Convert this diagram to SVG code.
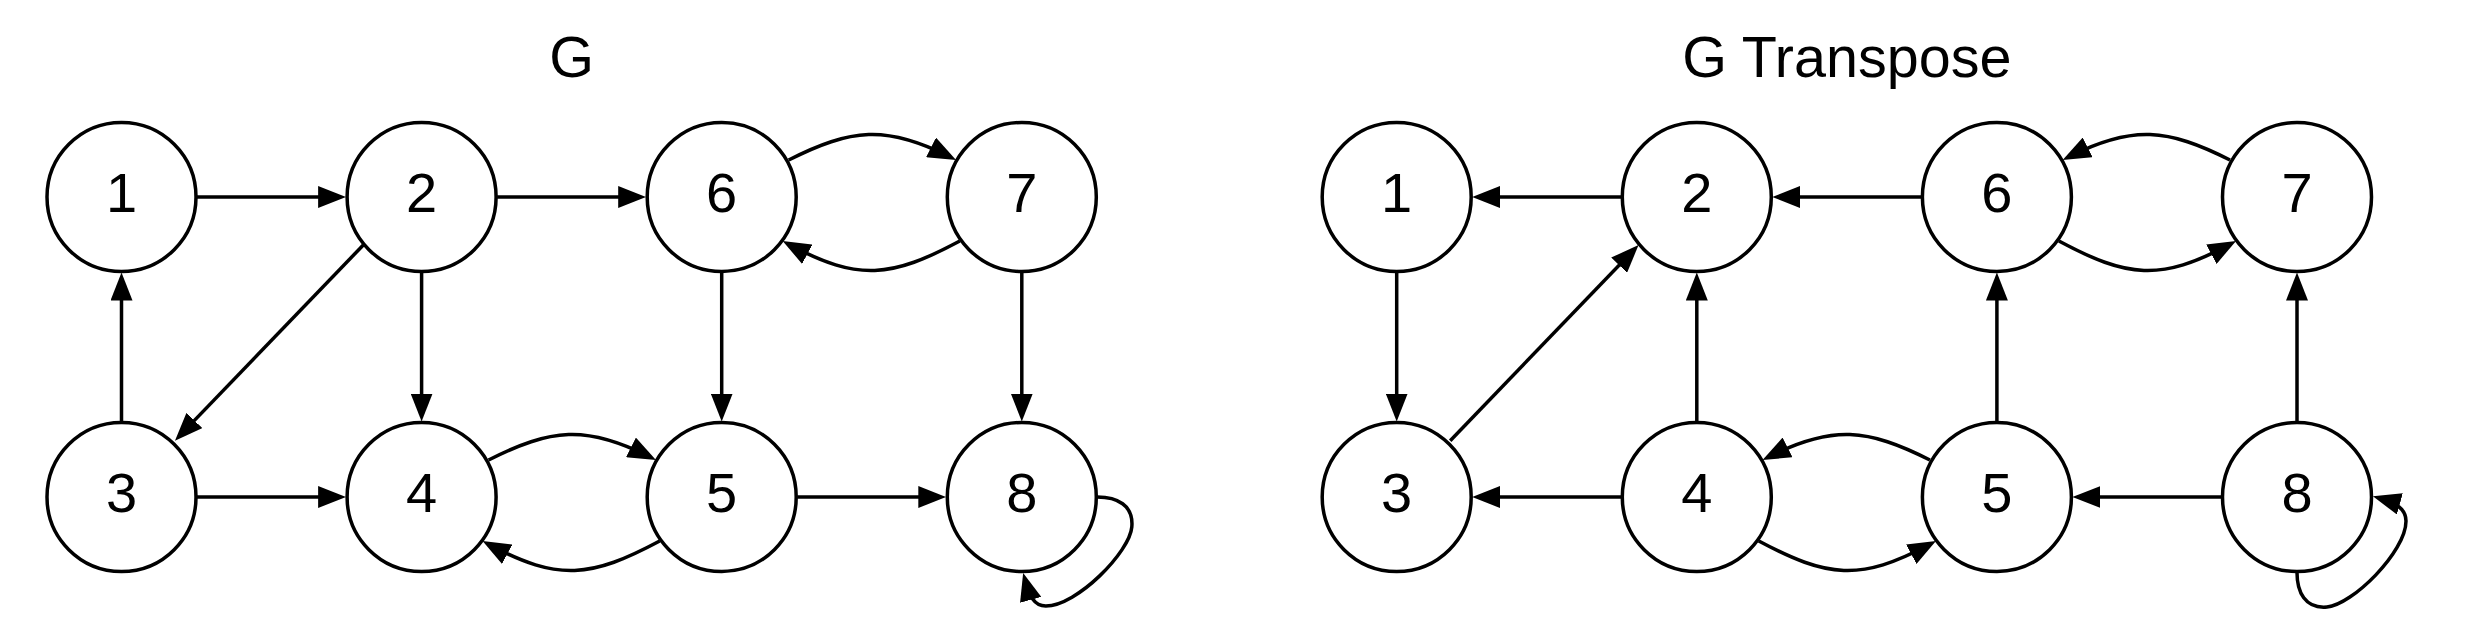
<svg xmlns="http://www.w3.org/2000/svg" width="2469" height="621" viewBox="0 0 2469 621">
<style>
.node circle{fill:#fff;stroke:#000;stroke-width:3.5}
.node text,.title{font-family:"Liberation Sans",Arial,sans-serif;font-size:56px;fill:#000;text-anchor:middle}
.title{font-size:57.5px}
.edges path{fill:none;stroke:#000;stroke-width:3.5;marker-end:url(#arr)}
</style>
<defs>
<marker id="arr" viewBox="0 0 28 22" markerWidth="28" markerHeight="22" refX="20" refY="11" orient="auto" markerUnits="userSpaceOnUse">
<path d="M0,0 L28,11 L0,22 z" fill="#000"/>
</marker>
</defs>
<rect width="2469" height="621" fill="#fff"/>
<text class="title" x="571.6" y="77.3">G</text>
<text class="title" x="1846.8" y="77.3">G Transpose</text>
<g class="edges" id="edges-g">
<path d="M197,197 L338.1,197"/>
<path d="M497.1,197 L638.2,197"/>
<path d="M197,497 L338.1,497"/>
<path d="M797.2,497 L938.3,497"/>
<path d="M121.5,421.5 L121.5,280.5"/>
<path d="M421.6,272.5 L421.6,413.5"/>
<path d="M721.7,272.5 L721.7,413.5"/>
<path d="M1021.8,272.5 L1021.8,413.5"/>
<path d="M363.3,245 L180.5,434.9"/>
<path d="M788.7,160 C851,128.5 886.4,124.9 948.9,156.4"/>
<path d="M959.8,241 C891.2,277.7 858.3,281.5 789.7,244.8"/>
<path d="M488.6,460 C550.9,428.5 586.3,424.9 648.8,456.4"/>
<path d="M659.7,541 C591.1,577.7 558.2,581.5 489.6,544.8"/>
<path d="M1097.3,497 C1116.8,497 1133.8,505 1131.8,527 C1129.8,552 1076.8,606 1045.8,606 C1033.8,606 1029.6,596 1025.3,580.6"/>
</g>
<g class="edges" id="edges-t">
<path d="M1621.3,197 L1480.2,197"/>
<path d="M1921.4,197 L1780.3,197"/>
<path d="M1621.3,497 L1480.2,497"/>
<path d="M2221.5,497 L2080.4,497"/>
<path d="M1396.7,272.5 L1396.7,413.5"/>
<path d="M1696.8,421.5 L1696.8,280.5"/>
<path d="M1996.9,421.5 L1996.9,280.5"/>
<path d="M2297,421.5 L2297,280.5"/>
<path d="M1450.2,440.7 L1633,250.8"/>
<path d="M2230,160 C2167.7,128.5 2132.3,124.9 2069.8,156.4"/>
<path d="M2058.9,241 C2127.5,277.7 2160.4,281.5 2229,244.8"/>
<path d="M1929.9,460 C1867.6,428.5 1832.2,424.9 1769.7,456.4"/>
<path d="M1758.8,541 C1827.4,577.7 1860.3,581.5 1928.9,544.8"/>
<path d="M2297,572.5 C2297,592 2305,609 2327,607 C2352,605 2406,552 2406,521 C2406,509 2396,502.8 2380.6,498.5"/>
</g>
<g id="g-node-1" class="node"><circle cx="121.5" cy="197" r="74.5"/><text x="121.5" y="211.7">1</text></g>
<g id="g-node-2" class="node"><circle cx="421.6" cy="197" r="74.5"/><text x="421.6" y="211.7">2</text></g>
<g id="g-node-6" class="node"><circle cx="721.7" cy="197" r="74.5"/><text x="721.7" y="211.7">6</text></g>
<g id="g-node-7" class="node"><circle cx="1021.8" cy="197" r="74.5"/><text x="1021.8" y="211.7">7</text></g>
<g id="g-node-3" class="node"><circle cx="121.5" cy="497" r="74.5"/><text x="121.5" y="511.7">3</text></g>
<g id="g-node-4" class="node"><circle cx="421.6" cy="497" r="74.5"/><text x="421.6" y="511.7">4</text></g>
<g id="g-node-5" class="node"><circle cx="721.7" cy="497" r="74.5"/><text x="721.7" y="511.7">5</text></g>
<g id="g-node-8" class="node"><circle cx="1021.8" cy="497" r="74.5"/><text x="1021.8" y="511.7">8</text></g>
<g id="t-node-1" class="node"><circle cx="1396.7" cy="197" r="74.5"/><text x="1396.7" y="211.7">1</text></g>
<g id="t-node-2" class="node"><circle cx="1696.8" cy="197" r="74.5"/><text x="1696.8" y="211.7">2</text></g>
<g id="t-node-6" class="node"><circle cx="1996.9" cy="197" r="74.5"/><text x="1996.9" y="211.7">6</text></g>
<g id="t-node-7" class="node"><circle cx="2297" cy="197" r="74.5"/><text x="2297" y="211.7">7</text></g>
<g id="t-node-3" class="node"><circle cx="1396.7" cy="497" r="74.5"/><text x="1396.7" y="511.7">3</text></g>
<g id="t-node-4" class="node"><circle cx="1696.8" cy="497" r="74.5"/><text x="1696.8" y="511.7">4</text></g>
<g id="t-node-5" class="node"><circle cx="1996.9" cy="497" r="74.5"/><text x="1996.9" y="511.7">5</text></g>
<g id="t-node-8" class="node"><circle cx="2297" cy="497" r="74.5"/><text x="2297" y="511.7">8</text></g>
</svg>
